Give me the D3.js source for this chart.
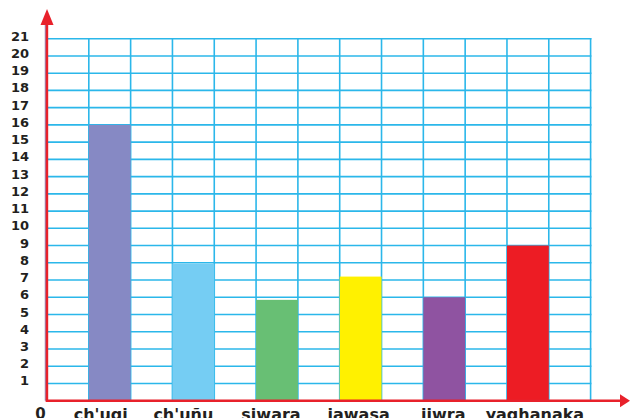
<!DOCTYPE html>
<html>
<head>
<meta charset="utf-8">
<script src="https://cdn.jsdelivr.net/npm/d3@7"></script>
<style>
body{margin:0;background:#fff}
text{font-family:"DejaVu Sans",sans-serif;font-weight:bold;fill:#231f20}
</style>
</head>
<body>
<div id="chart"></div>
<script>
var width = 630
var height = 418
var categories = ["ch'uqi","ch'uñu","siwara","jawasa","jiwra","yaghanaka"]
var values = [16,7.95,5.85,7.2,6,9]
var colors = ["#8689c4","#75cdf3","#68bf74","#fff100","#8f53a1","#ed1c24"]
var yTicks = d3.range(1,22)
var gridColor = "#2bb7ea"
var axisColor = "#e8212b"

var plotLeft = 47, plotRight = 590.6, plotTop = 38.7, plotBottom = 400.7

var svg = d3.select("#chart").append("svg")
	.attr("width",width)
	.attr("height",height)

var x = d3.scaleBand().domain(categories).range([plotLeft,plotRight]).paddingInner(0.5).paddingOuter(0.5)
var y = d3.scaleLinear().domain([0,21]).range([plotBottom,plotTop])

// vertical grid: every half step
var half = x.step()/2
var vLines = d3.range(1,14).map(function(i){ return plotLeft + i*half })
svg.selectAll(".vg")
	.data(vLines)
	.enter()
	.append("line")
	.attr("class","vg")
	.attr("x1",function(d){return d}).attr("x2",function(d){return d})
	.attr("y1",plotTop-0.8).attr("y2",plotBottom)
	.style("stroke",gridColor)
	.style("stroke-width",1.6)

svg.selectAll(".hg")
	.data(yTicks)
	.enter()
	.append("line")
	.attr("class","hg")
	.attr("x1",plotLeft).attr("x2",plotRight+0.8)
	.attr("y1",function(d){return y(d)}).attr("y2",function(d){return y(d)})
	.style("stroke",gridColor)
	.style("stroke-width",1.6)

svg.selectAll(".bar")
	.data(categories)
	.enter()
	.append("rect")
	.attr("class","bar")
	.attr("x",function(d){return x(d)})
	.attr("width",x.bandwidth())
	.attr("y",function(d,i){return y(values[i])})
	.attr("height",function(d,i){return plotBottom-y(values[i])})
	.style("fill",function(d,i){return colors[i]})

// y tick labels
svg.selectAll(".yl")
	.data(yTicks)
	.enter()
	.append("text")
	.attr("class","yl")
	.attr("x",29)
	.attr("y",function(d){return y(d)+2})
	.attr("text-anchor","end")
	.style("font-size","13px")
	.text(function(d){return d})

svg.append("text")
	.attr("x",40.5).attr("y",419)
	.attr("text-anchor","middle")
	.style("font-size","15px")
	.text("0")

var labelShift = [-9,-10,-6,-2,-1,7]
svg.selectAll(".xl")
	.data(categories)
	.enter()
	.append("text")
	.attr("class","xl")
	.attr("x",function(d,i){return x(d)+x.bandwidth()/2+labelShift[i]})
	.attr("y",419.5)
	.attr("text-anchor","middle")
	.style("font-size","16px")
	.text(function(d){return d})

// axes
svg.append("line")
	.attr("x1",45.3).attr("x2",45.3)
	.attr("y1",22).attr("y2",plotBottom)
	.style("stroke","#86679a").style("stroke-width",1)
svg.append("line")
	.attr("x1",plotLeft).attr("x2",plotLeft)
	.attr("y1",20).attr("y2",plotBottom+1.2)
	.style("stroke",axisColor).style("stroke-width",2.4)
svg.append("path")
	.attr("d","M"+plotLeft+",9 L"+(plotLeft+6.5)+",25 L"+(plotLeft-6.5)+",25 Z")
	.style("fill",axisColor)
svg.append("line")
	.attr("x1",plotLeft-1.2).attr("x2",622)
	.attr("y1",plotBottom).attr("y2",plotBottom)
	.style("stroke",axisColor).style("stroke-width",2.4)
svg.append("path")
	.attr("d","M630,"+plotBottom+" L620,"+(plotBottom-6.5)+" L620,"+(plotBottom+6.5)+" Z")
	.style("fill",axisColor)
</script>
</body>
</html>
